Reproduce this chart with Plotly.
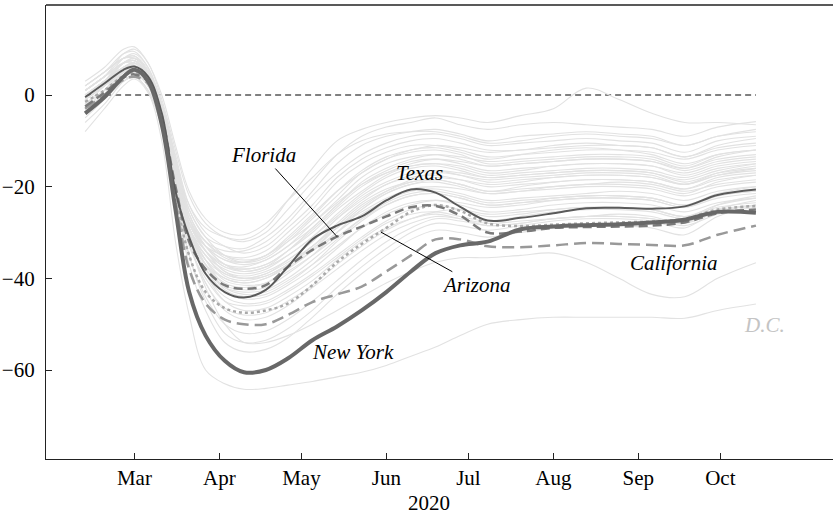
import plotly.graph_objects as go

dates = ["2020-02-12", "2020-02-19", "2020-02-26", "2020-03-01", "2020-03-06", "2020-03-11",
         "2020-03-16", "2020-03-21", "2020-03-27", "2020-04-03", "2020-04-10", "2020-04-18",
         "2020-04-26", "2020-05-05", "2020-05-14", "2020-05-23", "2020-06-01", "2020-06-10",
         "2020-06-19", "2020-06-28", "2020-07-08", "2020-07-20", "2020-08-01", "2020-08-13",
         "2020-08-25", "2020-09-06", "2020-09-18", "2020-09-30", "2020-10-14"]

tick_dates = ["2020-03-01", "2020-04-01", "2020-05-01", "2020-06-01",
              "2020-07-01", "2020-08-01", "2020-09-01", "2020-10-01"]
tick_labels = ["Mar", "Apr", "May", "Jun", "Jul", "Aug", "Sep", "Oct"]
y_ticks = [0, -20, -40, -60]
y_tick_labels = ["0", "\u221220", "\u221240", "\u221260"]

new_york = [-4, -0.5, 4, 5.5, 3, -6.5, -25, -43, -52.5, -58, -60.5, -60, -57.5, -53.5, -50.5,
            -47, -43, -38.5, -34.5, -32.8, -32, -29.3, -28.7, -28.4, -28.2, -27.8, -27.2, -25.5, -25.7]
texas = [-0.5, 2.5, 5.5, 6.2, 4, -4, -21, -31, -39, -43, -44.2, -42.5, -37.5, -31.5, -28.5,
         -26.5, -23, -20.6, -21.3, -24.4, -27.4, -26.8, -25.8, -24.7, -24.6, -24.8, -24.3, -21.8, -20.6]
florida = [-2.5, 0.5, 3.8, 4.5, 3, -5, -20, -32, -38, -41.5, -42.3, -41.5, -37.5, -33.8, -30.9,
           -28.7, -26.5, -24.5, -24.2, -26.3, -30, -29.8, -29, -28.8, -28.7, -28.5, -27.8, -25.8, -25]
arizona = [-1.5, 1, 4.2, 5, 3.5, -4.5, -22, -35, -43, -46.5, -47.5, -47, -45.5, -41.5, -36.5,
           -32.5, -29, -25.5, -24, -25.3, -28, -28.6, -28.3, -28, -27.8, -27.6, -27, -25, -24.2]
california = [-3, 0, 3.3, 4, 2.5, -6, -23, -38, -45.5, -49, -50, -50, -48, -45.2, -43.5,
              -41.8, -38.5, -35, -31.5, -31.5, -33, -33.2, -32.8, -32.3, -32.5, -32.7, -32.8, -30.5, -28.5]
dc = [-8, -3, 2, 3.5, 0.5, -10, -32, -48, -60, -63, -64.2, -64, -63.3, -62.5, -61.5,
      -60.5, -59, -57, -55, -52.5, -50, -49, -48.5, -48.5, -48.5, -48.5, -48.7, -47, -45.6]

s01 = [-2, 2, 7, 8, 5, -3, -14, -24, -29, -31, -31.5, -29, -23, -16, -10, -7.5, -6, -5, -4.5, -5, -6, -4.5, -3, 1.5, -1, -4, -6, -6, -6.5]
s02 = [1, 4, 9, 10, 7, -1, -12, -22, -28, -31, -32, -30, -25, -19, -13, -9, -7, -6, -5, -6.5, -7.5, -6.5, -6, -6.5, -7, -7.5, -9, -7, -5.8]
s03 = [0, 3, 8, 9, 6, -2, -14, -25, -31, -33, -33.5, -31, -27, -21, -15, -11, -9, -8, -7.5, -8.5, -10, -9, -8.5, -8, -8.5, -9, -11, -9, -8]
s04 = [-1, 2, 6, 7, 4, -4, -16, -27, -32, -34, -34, -32, -28, -22, -17, -13, -10.5, -9, -8.5, -9.5, -11, -10.5, -10, -9.5, -10, -10.5, -12.5, -10, -9]
s05 = [2, 5, 9, 9.5, 6, -2, -13, -24, -30, -33, -34.5, -33, -29, -24, -18, -14, -11.5, -10, -9.5, -10.5, -12, -12, -11, -10.5, -11, -11.5, -13.5, -11.5, -10.5]
s06 = [-3, 1, 6, 7, 4, -4, -17, -28, -33, -35, -35.5, -34, -30, -25, -19, -15, -12.5, -11, -11, -12, -13.5, -13, -12.5, -12, -12, -12.5, -14, -12, -11]
s07 = [0, 3, 7, 8, 5, -3, -15, -26, -32, -35, -36, -35, -31, -26, -21, -17, -14, -12, -11.5, -12.5, -14, -13, -12, -11.5, -12, -13, -15, -13, -12]
s08 = [-1, 2, 6, 7, 4, -3, -14, -25, -31, -35, -36.5, -35.5, -32, -27, -22, -17, -14, -12.5, -12, -13, -15, -14.5, -14, -13.5, -13.5, -14, -16, -14, -13]
s09 = [1, 4, 8, 8.5, 5.5, -2, -15, -27, -33, -36, -37, -36, -33, -28, -23, -18, -15, -13.5, -13, -14, -15.5, -15, -14.5, -14, -14, -14.5, -16.5, -14.5, -13.5]
s10 = [-2, 1, 5, 6, 3, -5, -17, -29, -34, -37, -37.5, -36, -33, -29, -24, -19.5, -16.5, -14.5, -14, -15, -16.5, -16, -15.5, -15, -15, -15.5, -17, -15, -14]
s11 = [0, 3, 7, 7.5, 4.5, -3, -16, -28, -34, -37.5, -38, -37, -34, -30, -25, -21, -17.5, -15.5, -15, -16, -17.5, -17, -16.5, -16, -16, -16.5, -18, -16, -15]
s12 = [2, 5, 8, 8.5, 5, -2, -14, -27, -33, -37, -38.5, -37.5, -35, -31, -26, -21.5, -18, -16, -15.5, -16.5, -18, -17.5, -17, -16.5, -16.5, -17, -19, -17, -16]
s13 = [-1, 2, 6, 6.5, 3.5, -4, -17, -29, -35, -38, -39, -38, -35, -31, -26.5, -22, -19, -17, -16.5, -17.5, -19, -18.5, -18, -17.5, -17.5, -18, -19.5, -17.5, -16.5]
s14 = [1, 4, 7, 7.5, 4.5, -3, -15, -28, -34, -38.5, -39.5, -38.5, -36, -32, -27, -23, -19.5, -18, -17.5, -18.5, -20, -19.5, -19, -18.5, -18.5, -19, -20.5, -18.5, -17.5]
s15 = [-2, 1, 5, 6, 3, -5, -18, -30, -36, -39, -40, -39, -36.5, -33, -28, -23.5, -20.5, -19, -18.5, -19.5, -21, -20.5, -20, -19.5, -19, -19.5, -21, -19.5, -18.5]
s16 = [0, 3, 6, 7, 4, -4, -17, -29, -35, -39.5, -40.5, -39.5, -37, -33.5, -29, -25, -21.5, -19.5, -19, -20, -21.5, -21, -20.5, -20, -20, -20.5, -22, -20, -19]
s17 = [-4, 0, 4, 5, 2, -6, -19, -31, -37, -40, -41, -40, -37.5, -34, -30, -26, -23, -21, -20.5, -21.5, -23, -22.5, -22, -21.5, -21, -21.5, -23, -21, -20]
s18 = [1, 4, 7, 7.5, 4, -4, -16, -29, -36, -40.5, -41.5, -41, -38.5, -35, -31, -27, -24, -22, -21.5, -22.5, -24, -23.5, -23, -22.5, -22.5, -23, -24.5, -22.5, -21.5]
s19 = [-1, 2, 5, 6, 3, -5, -18, -30, -37, -41, -42, -41, -38, -34, -29, -24.5, -21, -18.5, -17, -17.5, -18.5, -18, -17.5, -17, -17, -17.5, -19.5, -17.5, -16]
s20 = [0, 3, 6, 6.5, 3.5, -4, -17, -29, -36, -41.5, -42.5, -42, -39, -35, -30, -25, -21.5, -19.5, -18.5, -19.5, -21, -20, -19, -18.5, -18.5, -19, -20.5, -18, -17]
s21 = [-3, 0, 4, 5, 2, -6, -19, -32, -38, -42, -43, -42.5, -40, -36, -31.5, -27, -23.5, -21.5, -21, -22, -23.5, -23, -22.5, -22, -22, -22.5, -24, -22, -21]
s22 = [2, 5, 8, 8, 5, -3, -16, -29, -37, -42.5, -44, -43.5, -41, -37, -32, -27.5, -24, -22, -21.5, -22.5, -24, -23.5, -22.5, -22, -22, -22.5, -24, -21.5, -20]
s23 = [-1, 2, 5, 5.5, 2.5, -5, -18, -31, -38, -43, -44.5, -44, -41.5, -38, -33.5, -29, -25.5, -23.5, -23, -24, -25.5, -25, -24, -23.5, -23.5, -24, -25.5, -23.5, -22.5]
s24 = [0, 3, 6, 6.5, 3, -5, -18, -31, -39, -44, -45.5, -45, -42.5, -39, -35, -31, -27.5, -25, -24, -25, -26.5, -26, -25, -24.5, -24.5, -25, -26.5, -24.5, -23.5]
s25 = [-5, -1, 3, 4, 1, -7, -20, -33, -40, -45, -46, -45.5, -43, -39.5, -35.5, -31.5, -28, -26, -25.5, -26.5, -27.5, -26.5, -25.5, -25, -25, -25.5, -27, -25, -24]
s26 = [1, 4, 7, 7, 4, -4, -17, -30, -39, -45, -47, -46.5, -44, -40.5, -36, -32, -29, -27, -26, -27, -28.5, -28, -27, -26.5, -26.5, -27, -28, -25.5, -24]
s27 = [-2, 1, 4, 5, 2, -6, -19, -32, -41, -46.5, -48, -47.5, -45, -41.5, -37, -33, -29.5, -27, -25.5, -25, -26, -25.5, -25, -24.5, -24.5, -25, -26.5, -24, -22.5]
s28 = [0, 3, 6, 6, 3, -5, -18, -32, -41, -47, -49, -48.5, -46, -42, -38, -34, -30.5, -28, -26.5, -27, -28, -27.5, -27, -26.5, -26.5, -27, -28.5, -26, -24.5]
s29 = [-4, 0, 3, 4, 1, -7, -21, -35, -44, -50, -52, -51.5, -49, -45, -40.5, -36, -32, -29, -27, -27.5, -28.5, -28, -27, -26.5, -26, -26.5, -28, -24, -22]
s30 = [-1, 2, 5, 5.5, 2, -6, -20, -35, -45, -52, -54, -53.5, -51, -47, -42, -37.5, -33.5, -30, -28, -28.5, -29.5, -28.5, -27.5, -27, -27, -27.5, -29, -25, -23]
s31 = [-3, 0, 3, 4, 1, -7, -22, -37, -47, -54, -56, -55.5, -53, -48.5, -43.5, -39, -35, -31.5, -29.5, -30, -31, -30, -29, -28.5, -28.5, -29, -30.5, -26.5, -24]
s32 = [3, 6, 10, 10.5, 7, 0, -11, -21, -27, -30, -30.5, -28, -23, -18, -13, -10, -8.5, -8, -8, -9, -10.5, -10, -9, -8.5, -9, -9.5, -11, -9, -7.5]
s33 = [-6, -2, 3, 4.5, 2, -5, -17, -28, -33, -36, -36.5, -35, -32, -28, -23.5, -19.5, -17, -15.5, -15, -15.5, -17, -16.5, -15.5, -15, -15, -15.5, -17.5, -15.5, -14.5]
s34 = [2, 5, 8, 8.5, 5, -2, -14, -26, -33, -37, -38, -37, -34, -29, -24, -19, -16, -14, -13, -13.5, -14.5, -14, -13.5, -13, -13, -13.5, -15.5, -13, -12]
s35 = [-2, 1, 5, 6, 3, -5, -17, -29, -36, -40, -41, -40, -37, -33, -28.5, -24, -21, -19, -18, -18.5, -19.5, -19, -18, -17.5, -17.5, -18, -19.5, -17, -15.5]
s36 = [1, 4, 7, 7.5, 4.5, -3, -15, -27, -34, -38.5, -40, -39.5, -37, -33, -29, -25.5, -22.5, -20.5, -20, -20.5, -21.5, -21, -20, -19.5, -19.5, -20, -21.5, -19, -17.5]
s37 = [-1, 2, 6, 7, 4, -4, -16, -28, -34, -37.5, -38.5, -37.5, -34, -29.5, -24.5, -20, -17, -15, -14, -14.5, -15.5, -15, -14.5, -14, -14, -14.5, -16, -13.5, -12]
s38 = [0, 3, 7, 8, 5, -2, -14, -26, -32, -35.5, -36.5, -35, -31.5, -26.5, -21, -16.5, -13.5, -12, -11, -11.5, -12.5, -12, -11.5, -11, -11, -11.5, -13.5, -11, -9.5]
s39 = [-3, 0, 5, 6, 3, -4, -17, -29, -35, -39, -40, -39, -36, -32, -27, -22.5, -19.5, -17.5, -16.5, -17, -18, -17.5, -17, -16.5, -16.5, -17, -18.5, -16.5, -15]
s40 = [1, 4, 7, 7, 4, -4, -17, -30, -37, -42, -43.5, -43, -40.5, -37, -33, -29, -26, -24, -23, -23.5, -24.5, -24, -23, -22.5, -22.5, -23, -24.5, -22, -21]
s41 = [-1, 2, 5, 6, 3, -5, -18, -32, -42, -50, -54, -54, -52.5, -50, -47, -44, -41, -38.5, -36.5, -35.5, -35.5, -35, -34.5, -36.5, -40, -43.5, -44, -40, -36.6]

other_states = [s01, s02, s03, s04, s05, s06, s07, s08, s09, s10, s11, s12, s13, s14,
                s15, s16, s17, s18, s19, s20, s21, s22, s23, s24, s25, s26, s27, s28,
                s29, s30, s31, s32, s33, s34, s35, s36, s37, s38, s39, s40, s41]

SERIF = "Liberation Serif"
fig = go.Figure()

# zero reference line
fig.add_trace(go.Scatter(x=[dates[0], dates[-1]], y=[0, 0], mode="lines",
                         line=dict(color="black", width=1, dash="6px,4px"),
                         hoverinfo="skip", showlegend=False))

for vals in other_states:
    fig.add_trace(go.Scatter(x=dates, y=vals, mode="lines",
                             line=dict(color="#e2e2e2", width=1.1, shape="spline"),
                             hoverinfo="skip", showlegend=False))
fig.add_trace(go.Scatter(x=dates, y=dc, mode="lines", name="D.C.",
                         line=dict(color="#e2e2e2", width=1.1, shape="spline"), showlegend=False))

fig.add_trace(go.Scatter(x=dates, y=california, mode="lines", name="California",
                         line=dict(color="#999999", width=2.5, dash="12px,6px", shape="spline"),
                         showlegend=False))
fig.add_trace(go.Scatter(x=dates, y=arizona, mode="lines", name="Arizona",
                         line=dict(color="#aaaaaa", width=2.5, dash="dot", shape="spline"),
                         showlegend=False))
fig.add_trace(go.Scatter(x=dates, y=florida, mode="lines", name="Florida",
                         line=dict(color="#7a7a7a", width=2.5, dash="9px,5px", shape="spline"),
                         showlegend=False))
fig.add_trace(go.Scatter(x=dates, y=texas, mode="lines", name="Texas",
                         line=dict(color="#5a5a5a", width=2, shape="spline"),
                         showlegend=False))
fig.add_trace(go.Scatter(x=dates, y=new_york, mode="lines", name="New York",
                         line=dict(color="#686868", width=4, shape="spline"),
                         showlegend=False))

lab_font = dict(family=SERIF, size=21, color="black", style="italic")
fig.add_annotation(x="2020-05-14", y=-30.9, ax="2020-04-17", ay=-13.1, axref="x", ayref="y",
                   text="Florida", showarrow=True, arrowhead=0, arrowwidth=1,
                   arrowcolor="black", font=lab_font)
fig.add_annotation(x="2020-05-30", y=-29.9, ax="2020-07-04", ay=-41.5, axref="x", ayref="y",
                   text="Arizona", showarrow=True, arrowhead=0, arrowwidth=1,
                   arrowcolor="black", font=lab_font)
fig.add_annotation(x="2020-06-13", y=-17.0, text="Texas", showarrow=False, font=lab_font)
fig.add_annotation(x="2020-05-20", y=-56.1, text="New York", showarrow=False, font=lab_font)
fig.add_annotation(x="2020-09-14", y=-36.7, text="California", showarrow=False, font=lab_font)
fig.add_annotation(x="2020-10-17", y=-50.2, text="D.C.", showarrow=False,
                   font=dict(family=SERIF, size=21, color="#c4c4c4", style="italic"))
fig.add_annotation(x=0.4867, y=-0.0969, xref="paper", yref="paper", text="2020",
                   xanchor="center", yanchor="middle", borderpad=0,
                   showarrow=False, font=dict(family=SERIF, size=21, color="black"))

# top frame line
fig.add_shape(type="line", xref="paper", yref="paper", x0=0, x1=1, y0=1, y1=1,
              line=dict(color="#222222", width=1.3))

axis_common = dict(showline=True, linecolor="#222222", linewidth=1.3, ticks="inside",
                   ticklen=6, tickwidth=1.3, tickcolor="#222222", showgrid=False,
                   zeroline=False, automargin=False,
                   tickfont=dict(family=SERIF, size=21, color="black"))
fig.update_xaxes(type="date", range=["2020-01-28 17:00", "2020-11-11 03:36"],
                 tickvals=tick_dates, ticktext=tick_labels, **axis_common)
fig.update_yaxes(range=[-79.42, 19.64], tickvals=y_ticks, ticktext=y_tick_labels,
                 ticklabelstandoff=6, **axis_common)

fig.update_layout(width=833, height=516, margin=dict(l=46, r=0, t=5, b=57, autoexpand=False),
                  plot_bgcolor="white", paper_bgcolor="white",
                  font=dict(family=SERIF, size=21, color="black"))

fig.write_html("out.html", config={"displayModeBar": False},
               post_script="document.body.style.margin='0';")
